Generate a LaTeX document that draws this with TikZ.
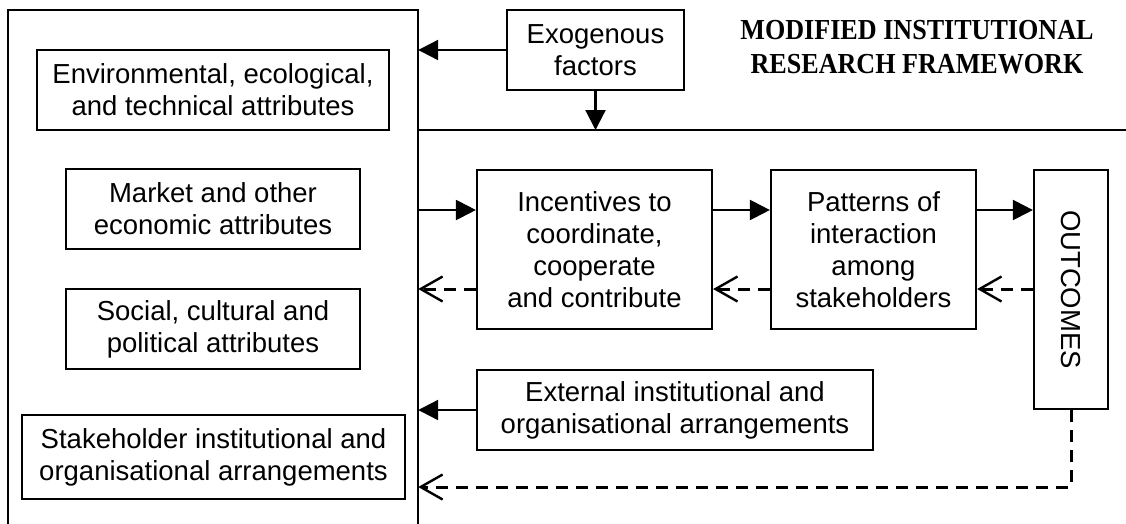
\documentclass[tikz,border=0pt]{standalone}
\usepackage{fontspec}
\setmainfont{Liberation Sans}
\newfontfamily\titlefont{Liberation Serif}
\usetikzlibrary{arrows.meta}
\begin{document}
\begin{tikzpicture}[x=1pt,y=-1pt,
  box/.style={draw, line width=2.2pt, inner sep=0pt, align=center,
    font=\fontsize{27.5}{32}\selectfont},
  arr/.style={line width=2.2pt, -{Triangle[length=20pt,width=20pt]}},
  darr/.style={line width=3pt, dash pattern=on 12pt off 8pt,
    -{Straight Barb[length=22pt,width=25pt,line width=2.4pt]}},
  plain/.style={line width=2.2pt}]
\useasboundingbox (0,0) rectangle (1126,523);

% open frame holding the attribute boxes
\node[inner sep=0pt, minimum width=410pt, minimum height=523pt] (frame) at (213,271.5) {};
\draw[plain] (frame.south west) -- (frame.north west) -- (frame.north east) -- (frame.south east);

% attribute boxes inside the frame
\node[box, minimum width=352pt, minimum height=80pt] (env) at (213,90)
  {Environmental, ecological,\\and technical attributes};
\node[box, minimum width=294pt, minimum height=80pt] (mkt) at (213,209)
  {Market and other\\economic attributes};
\node[box, minimum width=294pt, minimum height=80pt] (soc) at (213,329)
  {Social, cultural and\\political attributes};
\node[box, minimum width=383pt, minimum height=84pt] (stk) at (213.5,457)
  {Stakeholder institutional and\\organisational arrangements};

% exogenous factors and title
\node[box, minimum width=177pt, minimum height=80pt] (exo) at (595.5,50)
  {Exogenous\\factors};
\node[inner sep=0pt, font=\titlefont\bfseries\fontsize{29}{34}\selectfont] (title) at (917,50)
  {\scalebox{0.9}[1]{\begin{tabular}{@{}c@{}}MODIFIED INSTITUTIONAL\\RESEARCH FRAMEWORK\end{tabular}}};

% process chain
\node[box, minimum width=235pt, minimum height=159pt] (inc) at (594.5,249.5)
  {Incentives to\\coordinate,\\cooperate\\and contribute};
\node[box, minimum width=205pt, minimum height=159pt] (pat) at (873.5,249.5)
  {Patterns of\\interaction\\among\\stakeholders};
\node[box, minimum width=74pt, minimum height=239pt] (out) at (1071,289.5)
  {\rotatebox{-90}{OUTCOMES}};
\node[box, minimum width=396pt, minimum height=80pt] (ext) at (675,410)
  {External institutional and\\organisational arrangements};

% row levels and line ends
\coordinate (rightend) at (1128,130);
\coordinate (solidrow) at (0,210);
\coordinate (dashrow) at (0,289);
\coordinate (backrow) at (0,487);

% divider under the exogenous factors
\draw[plain] (frame.east |- rightend) -- (rightend);

% connectors
\draw[arr] (exo.west) -- (exo.west -| frame.east);
\draw[arr] (exo.south) -- (exo.south |- rightend);
\draw[arr] (frame.east |- solidrow) -- (inc.west |- solidrow);
\draw[arr] (inc.east |- solidrow) -- (pat.west |- solidrow);
\draw[arr] (pat.east |- solidrow) -- (out.west |- solidrow);
\draw[darr] (inc.west |- dashrow) -- (frame.east |- dashrow);
\draw[darr] (pat.west |- dashrow) -- (inc.east |- dashrow);
\draw[darr] (out.west |- dashrow) -- (pat.east |- dashrow);
\draw[arr] (ext.west) -- (ext.west -| frame.east);
\draw[darr] (out.south) |- (frame.east |- backrow);
\end{tikzpicture}
\end{document}
